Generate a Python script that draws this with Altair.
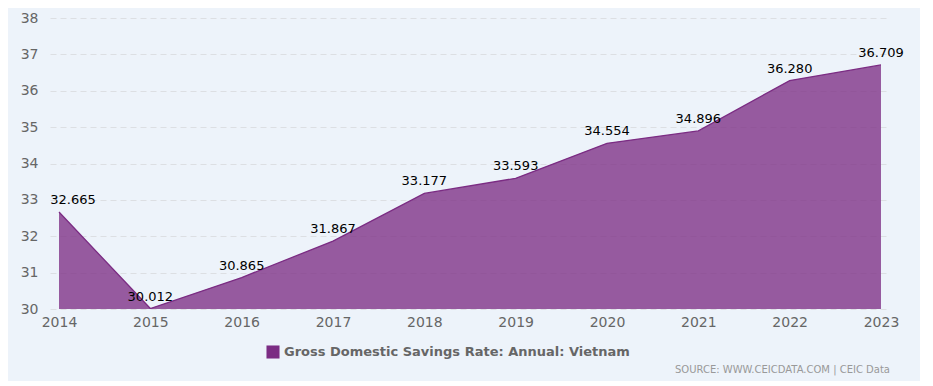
import altair as alt
import pandas as pd

years = [2014, 2015, 2016, 2017, 2018, 2019, 2020, 2021, 2022, 2023]
values = [32.665, 30.012, 30.865, 31.867, 33.177, 33.593, 34.554, 34.896, 36.280, 36.709]
labels = ["32.665", "30.012", "30.865", "31.867", "33.177", "33.593", "34.554", "34.896", "36.280", "36.709"]
series_name = "Gross Domestic Savings Rate: Annual: Vietnam"
source_text = "SOURCE: WWW.CEICDATA.COM | CEIC Data"
y_ticks = [30, 31, 32, 33, 34, 35, 36, 37, 38]

df = pd.DataFrame({"year": years, "value": values, "label": labels, "series": [series_name] * len(years)})

FONT = "DejaVu Sans"
W, H = 840, 291
pad = 9 / ((W - 18) / 9)

x = alt.X("year:Q", scale=alt.Scale(domain=[2014 - pad, 2023 + pad], nice=False, zero=False),
          axis=alt.Axis(values=years, format="d", title=None, grid=False, domain=False, ticks=False,
                        labelFontSize=14, labelColor="#666666", labelFont=FONT, labelPadding=6,
                        labelOverlap=False))
y = alt.Y("value:Q", scale=alt.Scale(domain=[30, 38], nice=False, zero=False),
          axis=alt.Axis(values=y_ticks, title=None, domain=False, ticks=False, labelOverlap=False,
                        gridDash=[6, 4], gridColor="#dcdfe3", labelFontSize=14, labelColor="#666666",
                        labelFont=FONT, labelPadding=12))

area = alt.Chart(df).mark_area(
    opacity=0.77, line={"color": "#7B2C83", "strokeWidth": 1.3, "opacity": 1}, clip=True
).encode(
    x=x, y=y,
    color=alt.Color("series:N", scale=alt.Scale(range=["#7B2C83"]),
                    legend=alt.Legend(title=None, orient="none", legendX=216, legendY=327,
                                      symbolType="square", symbolSize=170, symbolStrokeWidth=0,
                                      symbolOpacity=1,
                                      labelFontSize=13, labelFontWeight="bold", labelColor="#666666",
                                      labelFont=FONT, labelLimit=500))
)

text_first = alt.Chart(df.iloc[:1]).mark_text(dy=-12, dx=14, fontSize=13, font=FONT, color="#000000").encode(
    x=x, y=y, text="label:N"
)
text_rest = alt.Chart(df.iloc[1:]).mark_text(dy=-12, fontSize=13, font=FONT, color="#000000").encode(
    x=x, y=y, text="label:N"
)

src = alt.Chart(pd.DataFrame({"t": [source_text]})).mark_text(
    align="right", fontSize=10, font=FONT, color="#999999", baseline="middle"
).encode(x=alt.value(W), y=alt.value(352), text="t:N")

chart = alt.layer(area, text_first, text_rest, src).properties(
    width=W, height=H,
    background="#EDF3FA",
    padding={"left": 42, "top": 10, "right": 30, "bottom": 72},
    autosize=alt.AutoSizeParams(type="none"),
).configure_view(stroke=None)

chart.save("out.html", embed_options={"renderer": "svg", "actions": False})
